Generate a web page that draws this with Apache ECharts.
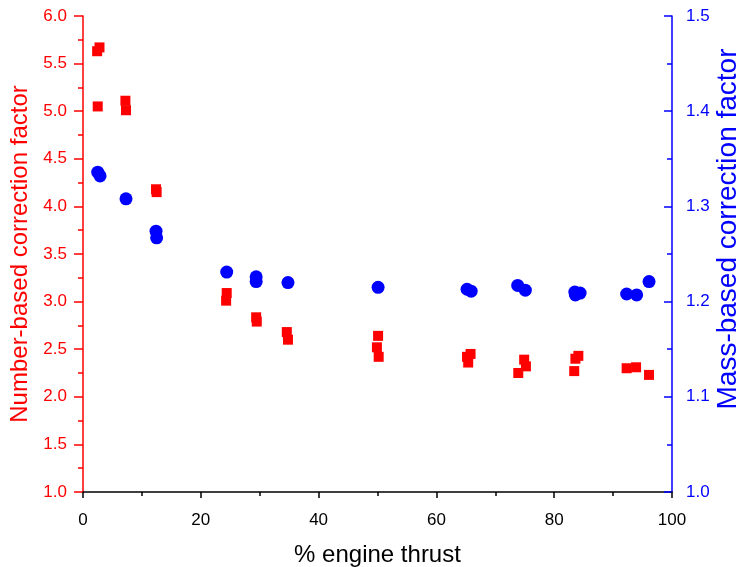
<!DOCTYPE html>
<html>
<head>
<meta charset="utf-8">
<script src="https://cdn.jsdelivr.net/npm/echarts@6/dist/echarts.min.js"></script>
<style>
html, body { margin: 0; padding: 0; background: #fff; }
#main { width: 738px; height: 567px; }
</style>
</head>
<body>
<div id="main"></div>
<script>
// number-based correction factor (left axis, red squares)
var numThrust = [2.4, 2.8, 2.5, 7.2, 7.3, 12.4, 12.5, 24.4, 24.3, 29.4, 29.5, 34.6, 34.8,
  50.1, 49.9, 50.2, 65.8, 65.2, 65.4, 74.9, 75.2, 73.9, 84.1, 83.6, 83.4, 92.3, 93.9, 96.1];
var numFactor = [5.63, 5.67, 5.05, 5.11, 5.01, 4.18, 4.15, 3.09, 3.01, 2.835, 2.79, 2.68, 2.60,
  2.64, 2.52, 2.42, 2.45, 2.42, 2.36, 2.39, 2.32, 2.25, 2.43, 2.40, 2.27, 2.30, 2.31, 2.23];

// mass-based correction factor (right axis, blue circles)
var massThrust = [2.5, 2.9, 7.3, 12.4, 12.5, 24.4, 29.4, 29.4, 34.8, 50.1,
  65.2, 65.9, 73.8, 75.1, 83.5, 83.6, 84.4, 92.3, 94.0, 96.1];
var massFactor = [1.336, 1.332, 1.308, 1.274, 1.267, 1.231, 1.226, 1.221, 1.220, 1.215,
  1.213, 1.211, 1.217, 1.212, 1.210, 1.207, 1.209, 1.208, 1.207, 1.221];

function pairs(xs, ys) {
  return xs.map(function (x, i) { return [x, ys[i]]; });
}

var font = '"Liberation Sans", Arial, sans-serif';
var red = '#ff0000', blue = '#0000ff';

var myChart = echarts.init(document.getElementById('main'));
var option = {
  animation: false,
  backgroundColor: '#fff',
  grid: { left: 83, right: 66, top: 16, bottom: 75, outerBoundsMode: 'none' },
  xAxis: {
    type: 'value',
    min: 0, max: 100, interval: 20,
    name: '% engine thrust',
    nameLocation: 'middle',
    nameGap: 51,
    nameTextStyle: { fontSize: 24, color: '#000', fontFamily: font },
    axisLine: { lineStyle: { color: '#000', width: 1.5 } },
    axisTick: { length: 6, lineStyle: { color: '#000', width: 1.5 } },
    minorTick: { show: true, splitNumber: 2, length: 4, lineStyle: { color: '#000', width: 1.5 } },
    splitLine: { show: false },
    axisLabel: { fontSize: 17, color: '#000', margin: 20, fontFamily: font }
  },
  yAxis: [
    {
      type: 'value',
      position: 'left',
      min: 1, max: 6, interval: 0.5,
      name: 'Number-based correction factor',
      nameLocation: 'middle',
      nameGap: 49,
      nameTextStyle: { fontSize: 24, color: red, fontFamily: font },
      axisLine: { show: true, lineStyle: { color: red, width: 1.5 } },
      axisTick: { length: 9, lineStyle: { color: red, width: 1.5 } },
      minorTick: { show: true, splitNumber: 2, length: 5, lineStyle: { color: red, width: 1.5 } },
      splitLine: { show: false },
      axisLabel: {
        fontSize: 17, color: red, margin: 16, fontFamily: font,
        formatter: function (v) { return v.toFixed(1); }
      }
    },
    {
      type: 'value',
      position: 'right',
      min: 1, max: 1.5, interval: 0.1,
      name: 'Mass-based correction factor',
      nameLocation: 'middle',
      nameGap: 42,
      nameMoveOverlap: false,
      nameTextStyle: { fontSize: 28, color: blue, fontFamily: font, padding: [0, 0, 0, 50] },
      axisLine: { show: true, lineStyle: { color: blue, width: 1.5 } },
      axisTick: { inside: true, length: 8, lineStyle: { color: blue, width: 1.5 } },
      minorTick: { show: true, splitNumber: 2, length: 5, lineStyle: { color: blue, width: 1.5 } },
      splitLine: { show: false },
      axisLabel: {
        fontSize: 17, color: blue, margin: 14, fontFamily: font,
        formatter: function (v) { return v.toFixed(1); }
      }
    }
  ],
  series: [
    {
      type: 'scatter',
      yAxisIndex: 1,
      symbol: 'circle',
      symbolSize: 13,
      itemStyle: { color: blue, opacity: 1 },
      data: pairs(massThrust, massFactor)
    },
    {
      type: 'scatter',
      yAxisIndex: 0,
      symbol: 'rect',
      symbolSize: 10,
      itemStyle: { color: red, opacity: 1 },
      data: pairs(numThrust, numFactor)
    }
  ]
};
myChart.setOption(option);
</script>
</body>
</html>
